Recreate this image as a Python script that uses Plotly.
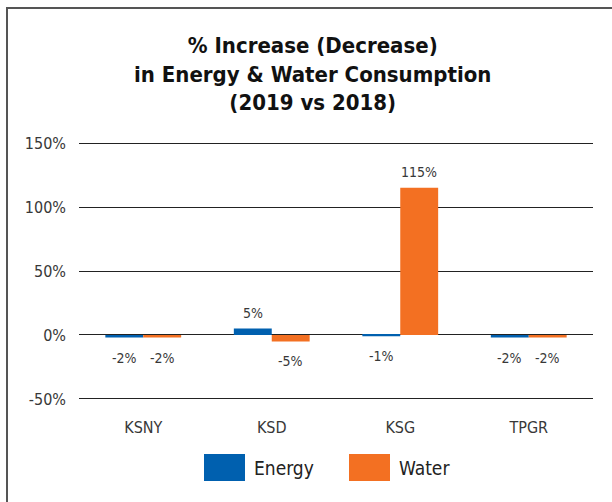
import plotly.graph_objects as go

categories = ["KSNY", "KSD", "KSG", "TPGR"]
energy = [-2, 5, -1, -2]
water = [-2, -5, 115, -2]
y_ticks = [-50, 0, 50, 100, 150]
y_tick_labels = ["-50%", "0%", "50%", "100%", "150%"]

FONT = "DejaVu Sans Condensed, Liberation Sans Narrow, sans-serif"
BLUE = "#0060AF"
ORANGE = "#F37022"
TXT = "#383838"

W, H = 612, 502
ML, MR, MT, MB = 79, 19, 142, 102
pw, ph = W - ML - MR, H - MT - MB


def px_x(x):
    return (x - ML) / pw


def px_y(y):
    return (H - MB - y) / ph


fig = go.Figure()
for name, vals, col in [("Energy", energy, BLUE), ("Water", water, ORANGE)]:
    fig.add_trace(go.Bar(
        x=categories, y=vals, name=name, marker_color=col, marker_line_width=0,
        showlegend=False,
    ))

shapes = [
    # outer frame
    dict(type="rect", xref="paper", yref="paper",
         x0=px_x(7), x1=px_x(640), y0=px_y(530), y1=px_y(8),
         line=dict(color="#555555", width=2), fillcolor="rgba(0,0,0,0)"),
]
annotations = [
    dict(text="<b>% Increase (Decrease)<br>in Energy & Water Consumption<br>(2019 vs 2018)</b>",
         xref="paper", yref="paper", x=px_x(312), y=px_y(73.5), xanchor="center", yanchor="middle",
         showarrow=False, font=dict(family=FONT, size=22, color="#111111")),
]
# value labels above / below each bar
for vals, shift in [(energy, -19), (water, 19)]:
    for cat, v in zip(categories, vals):
        annotations.append(dict(
            x=cat, y=v, xref="x", yref="y", text=f"{v}%", showarrow=False,
            xshift=shift, yshift=16 if v >= 0 else -20,
            font=dict(family=FONT, size=14, color=TXT)))
# legend
for label, col, x0 in [("Energy", BLUE, 204), ("Water", ORANGE, 349)]:
    shapes.append(dict(type="rect", xref="paper", yref="paper",
                       x0=px_x(x0), x1=px_x(x0 + 41), y0=px_y(481), y1=px_y(454),
                       fillcolor=col, line_width=0))
    annotations.append(dict(text=label, xref="paper", yref="paper",
                            x=px_x(x0 + 48), y=px_y(468), xanchor="left", yanchor="middle",
                            showarrow=False, font=dict(family=FONT, size=19, color="#222222")))

fig.update_layout(
    width=W, height=H, margin=dict(l=ML, r=MR, t=MT, b=MB),
    paper_bgcolor="white", plot_bgcolor="white",
    barmode="group", bargap=0.41, bargroupgap=0,
    shapes=shapes, annotations=annotations,
    font=dict(family=FONT, color=TXT),
)
fig.update_xaxes(showline=False, ticks="", tickfont=dict(family=FONT, size=16, color=TXT),
                 ticklabelstandoff=16)
fig.update_yaxes(range=[-50.8, 150.8], tickvals=y_ticks, ticktext=y_tick_labels,
                 showgrid=True, gridcolor="#222222", gridwidth=1.2,
                 zeroline=True, zerolinecolor="#222222", zerolinewidth=1.2,
                 ticks="", ticklen=0, ticklabelstandoff=12,
                 tickfont=dict(family=FONT, size=16, color=TXT))

fig.write_html("out.html")
